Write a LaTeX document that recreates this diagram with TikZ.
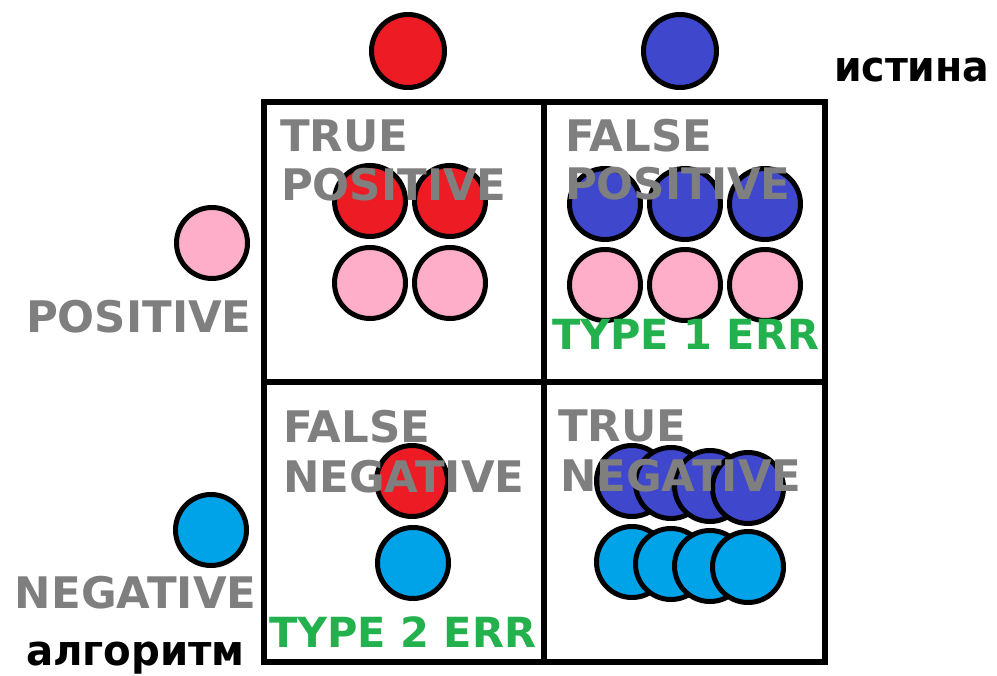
\documentclass[tikz,border=0pt]{standalone}
\usepackage{fontspec}
\usepackage{graphicx}
\newfontfamily\labfont{DejaVu Sans}
\definecolor{cgray}{HTML}{7F7F7F}
\definecolor{cgreen}{HTML}{22B14C}
\definecolor{cred}{HTML}{ED1C24}
\definecolor{cindigo}{HTML}{3F48CC}
\definecolor{cpink}{HTML}{FFAEC9}
\definecolor{cturq}{HTML}{00A2E8}
\tikzset{
  ball/.style={circle, draw=black, line width=5pt, minimum size=71pt, inner sep=0pt},
  bigball/.style={ball, minimum size=73pt},
  lab/.style={anchor=base west, inner sep=0pt, outer sep=0pt, font=\labfont\bfseries\fontsize{43.5}{50}\selectfont},
  glab/.style={lab, text=cgray},
  elab/.style={lab, text=cgreen, font=\labfont\bfseries\fontsize{41.5}{50}\selectfont},
  klab/.style={lab, text=black, font=\labfont\bfseries\fontsize{42}{50}\selectfont},
  gridline/.style={line width=5.5pt, draw=black}
}
\begin{document}
\begin{tikzpicture}[x=1pt,y=-1pt]
\useasboundingbox (0,0) rectangle (997,676);
% grid
\draw[gridline] (264,102) rectangle (825,662);
\coordinate (vt) at (544,102); \coordinate (vb) at (544,662);
\coordinate (hl) at (264,382); \coordinate (hr) at (825,382);
\draw[gridline] (vt) -- (vb);
\draw[gridline] (hl) -- (hr);
% header balls
\node[bigball, fill=cred] (topred) at (408,51) {};
\node[bigball, fill=cindigo] (topblue) at (680,51) {};
\node[ball, fill=cpink] (leftpink) at (212,243) {};
\node[ball, fill=cturq] (leftturq) at (211,530) {};
% TP
\node[ball, fill=cred] (tp1) at (370,201) {};
\node[ball, fill=cred] (tp2) at (450,201) {};
\node[ball, fill=cpink] (tp3) at (370,283) {};
\node[ball, fill=cpink] (tp4) at (450,283) {};
% FP
\node[ball, fill=cindigo] (fp1) at (605,204) {};
\node[ball, fill=cindigo] (fp2) at (685,204) {};
\node[ball, fill=cindigo] (fp3) at (765,204) {};
\node[ball, fill=cpink] (fp4) at (605,285) {};
\node[ball, fill=cpink] (fp5) at (685,285) {};
\node[ball, fill=cpink] (fp6) at (765,285) {};
% FN
\node[ball, fill=cred] (fn1) at (412,481) {};
\node[ball, fill=cturq] (fn2) at (413,563) {};
% TN
\node[ball, fill=cindigo] (tn1) at (632,481) {};
\node[ball, fill=cindigo] (tn2) at (671,483) {};
\node[ball, fill=cindigo] (tn3) at (710,486) {};
\node[ball, fill=cindigo] (tn4) at (748,488) {};
\node[ball, fill=cturq] (tn5) at (632,562) {};
\node[ball, fill=cturq] (tn6) at (671,564) {};
\node[ball, fill=cturq] (tn7) at (710,566) {};
\node[ball, fill=cturq] (tn8) at (748,567) {};
% texts
\node[glab] (t1a) at (280,152) {TRUE};
\node[glab] (t1b) at (281,201) {POSITIVE};
\node[glab] (t2a) at (565,152) {FALSE};
\node[glab] (t2b) at (565,200) {POSITIVE};
\node[elab] (t2c) at (552,350) {TYPE 1 ERR};
\node[glab] (t3a) at (283,443) {FALSE};
\node[glab] (t3b) at (283,493) {NEGATIVE};
\node[elab] (t3c) at (269,647) {TYPE 2 ERR};
\node[glab] (t4a) at (558,442) {TRUE};
\node[glab] (t4b) at (560,492) {NEGATIVE};
\node[glab] (lpos) at (26,333) {POSITIVE};
\node[glab] (lneg) at (15,608) {NEGATIVE};
\node[klab] (alg) at (26,665) {\scalebox{0.96}[1]{алгоритм}};
\node[klab] (ist) at (834,82) {\scalebox{0.94}[1]{истина}};
\end{tikzpicture}
\end{document}
